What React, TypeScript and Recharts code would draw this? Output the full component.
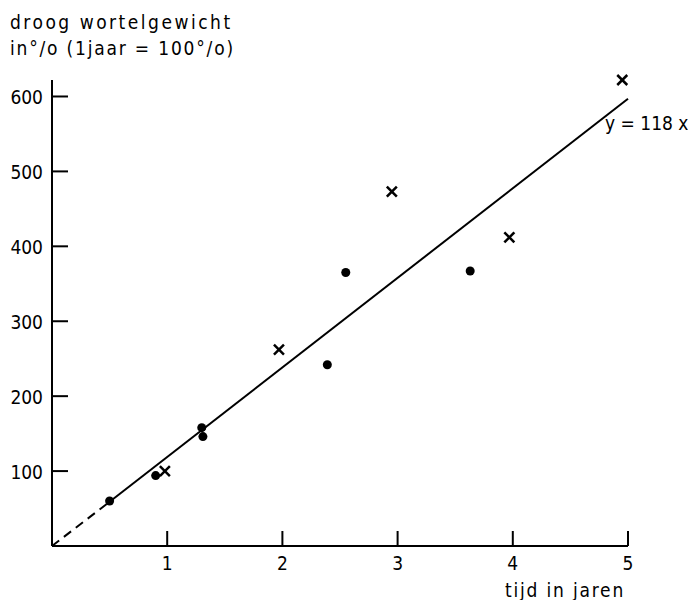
import { ScatterChart, Scatter, XAxis, YAxis } from "recharts";

const xTicks = [1, 2, 3, 4, 5];
const yTicks = [100, 200, 300, 400, 500, 600];

// gemeten punten (bolletjes)
const dots = [
  { x: 0.5, y: 60 },
  { x: 0.9, y: 94 },
  { x: 1.3, y: 158 },
  { x: 1.31, y: 146 },
  { x: 2.39, y: 242 },
  { x: 2.55, y: 365 },
  { x: 3.63, y: 367 },
];

// gemeten punten (kruisjes)
const crosses = [
  { x: 0.98, y: 100 },
  { x: 1.97, y: 262 },
  { x: 2.95, y: 473 },
  { x: 3.97, y: 412 },
  { x: 4.95, y: 622 },
];

const fitDashed = [
  { x: 0, y: 0 },
  { x: 0.5, y: 59 },
];
const fitSolid = [
  { x: 0.5, y: 59 },
  { x: 5, y: 597 },
];

const font = {
  fontFamily: "'DejaVu Sans', sans-serif",
  fontStretch: "condensed" as const,
};

const XTick = ({ x, y, payload }: any) => (
  <text x={x} y={y} textAnchor="middle" dominantBaseline="central" fontSize={19} fill="#000" style={font}>
    {payload.value}
  </text>
);

const YTick = ({ x, y, payload }: any) => (
  <text x={x} y={y + 1} textAnchor="end" dominantBaseline="central" fontSize={19} fill="#000" style={font}>
    {payload.value}
  </text>
);

const Dot = ({ cx, cy }: any) => <circle cx={cx} cy={cy} r={4.5} fill="#000" />;

const Cross = ({ cx, cy }: any) => (
  <g stroke="#000" strokeWidth={2.5}>
    <line x1={cx - 5} y1={cy - 5} x2={cx + 5} y2={cy + 5} />
    <line x1={cx - 5} y1={cy + 5} x2={cx + 5} y2={cy - 5} />
  </g>
);

const NoPoint = () => <g />;

const textStyle: React.CSSProperties = {
  position: "absolute",
  ...font,
  fontSize: 19,
  color: "#000",
  whiteSpace: "nowrap",
  lineHeight: "20px",
};

export default function App() {
  return (
    <div style={{ position: "absolute", left: 0, top: 0, width: 688, height: 600, background: "#fff" }}>
      <ScatterChart width={688} height={600} margin={{ top: 80, right: 60, left: 0, bottom: 0 }}>
        <XAxis
          type="number"
          dataKey="x"
          domain={[0, 5]}
          ticks={xTicks}
          height={54}
          tickSize={-15}
          tickMargin={32}
          tick={<XTick />}
          axisLine={{ stroke: "#000", strokeWidth: 2 }}
          tickLine={{ stroke: "#000", strokeWidth: 2 }}
        />
        <YAxis
          type="number"
          dataKey="y"
          domain={[0, 600]}
          ticks={yTicks}
          width={52}
          tickSize={-16}
          tickMargin={25}
          tick={<YTick />}
          axisLine={{ stroke: "#000", strokeWidth: 2 }}
          tickLine={{ stroke: "#000", strokeWidth: 2 }}
        />
        <Scatter
          data={fitDashed}
          line={{ stroke: "#000", strokeWidth: 2, strokeDasharray: "9 6" }}
          shape={<NoPoint />}
          isAnimationActive={false}
        />
        <Scatter
          data={fitSolid}
          line={{ stroke: "#000", strokeWidth: 2 }}
          shape={<NoPoint />}
          isAnimationActive={false}
        />
        <Scatter data={dots} shape={<Dot />} isAnimationActive={false} />
        <Scatter data={crosses} shape={<Cross />} isAnimationActive={false} />
      </ScatterChart>
      <div style={{ ...textStyle, left: 10, top: 12, letterSpacing: 2.5 }}>droog wortelgewicht</div>
      <div style={{ ...textStyle, left: 10, top: 38, letterSpacing: 1.8 }}>in°/o (1jaar = 100°/o)</div>
      <div style={{ ...textStyle, left: 605, top: 113 }}>y = 118 x</div>
      <div style={{ ...textStyle, left: 505, top: 580, letterSpacing: 1.8 }}>tijd in jaren</div>
    </div>
  );
}
